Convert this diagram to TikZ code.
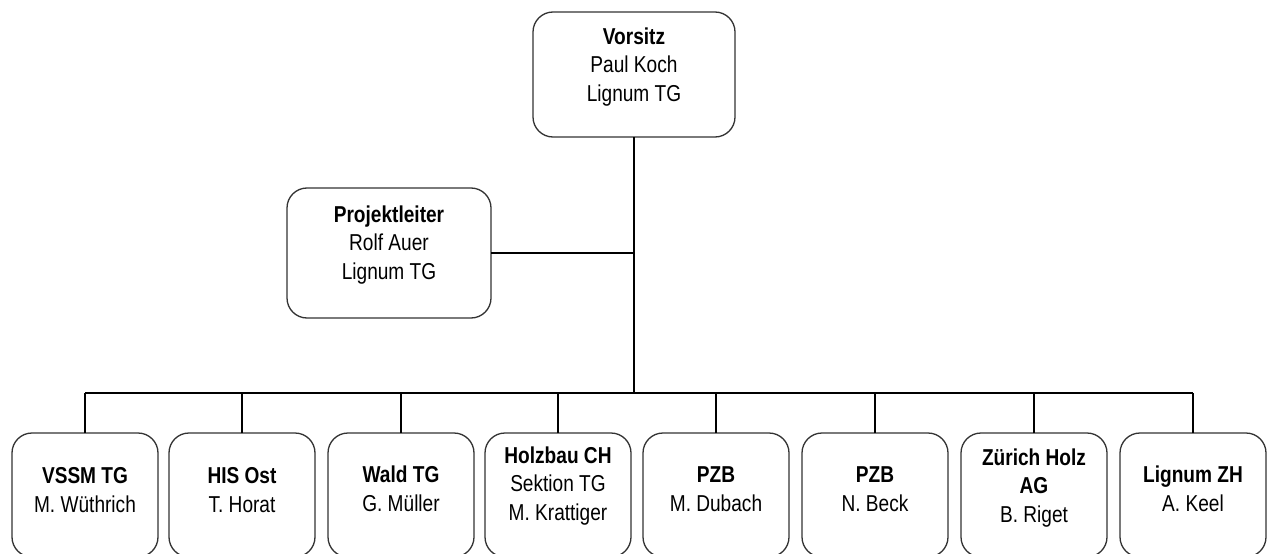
\documentclass[tikz,border=0pt]{standalone}
\usepackage{fontspec}
\setmainfont{Liberation Sans}[FakeStretch=0.83]
\begin{document}
\begin{tikzpicture}[x=1pt,y=-1pt,
  box/.style={draw=black!80, line width=1.3pt, rounded corners=20pt, fill=white,
    inner sep=0pt, outer sep=0pt},
  topbox/.style={box, minimum width=202pt, minimum height=125pt},
  pbox/.style={box, minimum width=204pt, minimum height=130pt},
  unitbox/.style={box, minimum width=146pt, minimum height=124pt},
  txt/.style={align=center, inner sep=0pt, font=\fontsize{23}{28.5}\selectfont},
  conn/.style={line width=2.4pt, black}]
\useasboundingbox (0,0) rectangle (1270,554);
\clip (0,0) rectangle (1270,554);
\fill[white] (0,0) rectangle (1270,554);

% top
\node[topbox] (v) at (634,74.5) {};
\node[txt] (vt) at (634,67) {\textbf{Vorsitz}\\Paul Koch\\Lignum TG};
% project lead
\node[pbox] (p) at (389,253) {};
\node[txt] (pt) at (389,245) {\textbf{Projektleiter}\\Rolf Auer\\Lignum TG};

% bottom units
\node[unitbox] (b1) at (85,495) {};
\node[unitbox] (b2) at (242,495) {};
\node[unitbox] (b3) at (401,495) {};
\node[unitbox] (b4) at (558,495) {};
\node[unitbox] (b5) at (716,495) {};
\node[unitbox] (b6) at (875,495) {};
\node[unitbox] (b7) at (1034,495) {};
\node[unitbox] (b8) at (1193,495) {};

\node[txt] (t1) at (85,490) {\textbf{VSSM TG}\\M. Wüthrich};
\node[txt] (t2) at (242,490) {\textbf{HIS Ost}\\T. Horat};
\node[txt] (t3) at (401,489) {\textbf{Wald TG}\\G. Müller};
\node[txt] (t4) at (558,486) {\textbf{Holzbau CH}\\Sektion TG\\M. Krattiger};
\node[txt] (t5) at (716,489) {\textbf{PZB}\\M. Dubach};
\node[txt] (t6) at (875,489) {\textbf{PZB}\\N. Beck};
\node[txt] (t7) at (1034,488) {\textbf{Zürich Holz}\\\textbf{AG}\\B. Riget};
\node[txt] (t8) at (1193,489) {\textbf{Lignum ZH}\\A. Keel};

% connectors
\coordinate (bus) at (634,393);
\draw[conn] (v.south) -- (bus);
\draw[conn] (p.east) -- (p.east -| v.south);
\draw[conn] (b1.north |- bus) -- (b8.north |- bus);
\foreach \i in {1,...,8} {
  \draw[conn] (b\i.north) -- (b\i.north |- bus);
}
\end{tikzpicture}
\end{document}
